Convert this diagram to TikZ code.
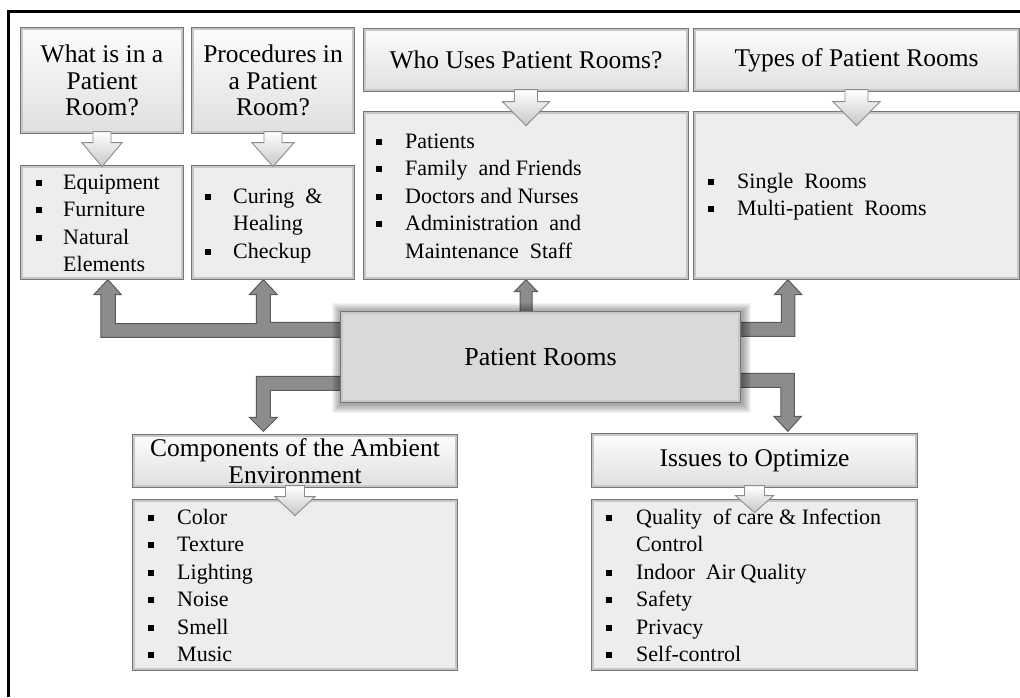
\documentclass[tikz,border=0pt]{standalone}
\usepackage{fontspec}
\setmainfont{Liberation Serif}
\usetikzlibrary{calc,backgrounds}
\definecolor{hdrtop}{HTML}{FCFCFC}
\definecolor{hdrbot}{HTML}{E0E0E0}
\definecolor{cntfill}{HTML}{EDEDED}
\definecolor{ctrfill}{HTML}{D9D9D9}
\definecolor{bord}{HTML}{767676}
\definecolor{connfill}{HTML}{8C8C8C}
\definecolor{conndraw}{HTML}{5A5A5A}
\newcommand\sqb{\rule[3.2pt]{6pt}{6pt}}
\newcommand\bi[2]{\makebox[#1][l]{\sqb}#2}
\newcommand\bc[2]{\makebox[#1][l]{}#2}
\newcommand\hdarrow[5]{%
  \draw[larrow] ($(#1.south)+(-#2,-2)$) -- ++(0,{#4+2}) -- ++({-(#3-#2)},0)
    -- ($(#1.south)+(0,#5)$) -- ++(#3,{-(#5-#4)}) -- ++({-(#3-#2)},0)
    -- ++(0,{-(#4+2)}) -- cycle;}
\begin{document}
\begin{tikzpicture}[x=1pt,y=-1pt,
  box/.style={rectangle, inner sep=0pt, draw=bord, line width=1.3pt},
  hdr/.style={box, top color=hdrtop, bottom color=hdrbot, align=center,
    font=\fontsize{25.5}{26.5}\selectfont},
  cnt/.style={box, fill=cntfill},
  ctr/.style={box, fill=ctrfill, font=\fontsize{26}{30}\selectfont},
  lst/.style={inner sep=0pt, anchor=base west, font=\fontsize{22}{27.5}\selectfont},
  conn/.style={fill=connfill, draw=conndraw, line width=1pt, line join=miter},
  larrow/.style={top color=white, bottom color=black!22, draw=black!45,
    line width=0.9pt, line join=miter},
  bevel/.style={draw=black!22, line width=1.5pt},
]
\useasboundingbox (0,0) rectangle (1020,697);

% frame
\draw[line width=3pt, line join=miter] (8.5,697) -- (8.5,11.7) -- (1020,11.7);

% header boxes
\node[hdr, minimum width=162, minimum height=105] (hA) at (102,80.5) {What is in a\\Patient\\Room?};
\node[hdr, minimum width=162, minimum height=105] (hB) at (273,80.5) {Procedures in\\a Patient\\Room?};
\node[hdr, minimum width=324, minimum height=62] (hC) at (526,60) {Who Uses Patient Rooms?};
\node[hdr, minimum width=325, minimum height=62] (hD) at (856.5,60) {Types of Patient Rooms};
\node[hdr, minimum width=324, minimum height=52] (hE) at (295,461) {Components of the Ambient\\Environment};
\node[hdr, minimum width=325, minimum height=53] (hF) at (754.5,460.5) {Issues to Optimize};

% content boxes
\node[cnt, minimum width=162, minimum height=113] (cA) at (102,222.5) {};
\node[cnt, minimum width=162, minimum height=113] (cB) at (273,222.5) {};
\node[cnt, minimum width=324, minimum height=167] (cC) at (526,195.5) {};
\node[cnt, minimum width=325, minimum height=167] (cD) at (856.5,195.5) {};
\node[cnt, minimum width=324, minimum height=170] (cE) at (295,585) {};
\node[cnt, minimum width=325, minimum height=170] (cF) at (754.5,585) {};

% central box
\node[ctr, minimum width=399, minimum height=90] (pr) at (540.5,357) {Patient Rooms};

% bevels
\foreach \nm in {hA,hB,hC,hD,hE,hF,cA,cB,cC,cD,cE,cF,pr}
  \draw[bevel] ($(\nm.north west)+(1.6,1.6)$) rectangle ($(\nm.south east)+(-1.6,-1.6)$);

% light arrows header -> content
\hdarrow{hA}{9}{20}{9}{33}
\hdarrow{hB}{9}{21}{9}{33}
\hdarrow{hC}{11.5}{23.5}{10}{34}
\hdarrow{hD}{11.5}{23.5}{10}{34}
\hdarrow{hE}{9.5}{20}{9}{28}
\hdarrow{hF}{10}{19}{8}{25}

% list texts
\node[lst] (lA) at (35.5,189) {\begin{tabular}[t]{@{}l@{}}
  \bi{27.5pt}{Equipment}\\ \bi{27.5pt}{Furniture}\\ \bi{27.5pt}{Natural}\\ \bc{27.5pt}{Elements}\end{tabular}};
\node[lst] (lB) at (204.5,203) {\begin{tabular}[t]{@{}l@{}}
  \bi{28.5pt}{Curing\ \ \&}\\ \bc{28.5pt}{Healing}\\ \bi{28.5pt}{Checkup}\end{tabular}};
\node[lst] (lC) at (375.5,148) {\begin{tabular}[t]{@{}l@{}}
  \bi{29.5pt}{Patients}\\ \bi{29.5pt}{Family\ \ and Friends}\\ \bi{29.5pt}{Doctors and Nurses}\\
  \bi{29.5pt}{Administration\ \ and}\\ \bc{29.5pt}{Maintenance\ \ Staff}\end{tabular}};
\node[lst] (lD) at (707.5,188) {\begin{tabular}[t]{@{}l@{}}
  \bi{29.5pt}{Single\ \ Rooms}\\ \bi{29.5pt}{Multi-patient\ \ Rooms}\end{tabular}};
\node[lst] (lE) at (147.5,524) {\begin{tabular}[t]{@{}l@{}}
  \bi{29.5pt}{Color}\\ \bi{29.5pt}{Texture}\\ \bi{29.5pt}{Lighting}\\ \bi{29.5pt}{Noise}\\
  \bi{29.5pt}{Smell}\\ \bi{29.5pt}{Music}\end{tabular}};
\node[lst] (lF) at (605.5,524) {\begin{tabular}[t]{@{}l@{}}
  \bi{30.5pt}{Quality\ \ of care \& Infection}\\ \bc{30.5pt}{Control}\\ \bi{30.5pt}{Indoor\ \ Air Quality}\\
  \bi{30.5pt}{Safety}\\ \bi{30.5pt}{Privacy}\\ \bi{30.5pt}{Self-control}\end{tabular}};

% connector tips
\coordinate (tA) at ($(cA.south west)+(87.5,0)$);
\coordinate (tB) at ($(cB.south west)+(72,0)$);
\coordinate (tC) at (cC.south);
\coordinate (tD) at ($(cD.south west)+(94.5,0)$);
\coordinate (tE) at ($(hE.north west)+(131,-3)$);
\coordinate (tF) at ($(hF.north west)+(196.5,-2)$);

\begin{pgfonlayer}{background}
\fill[white] (0,0) rectangle (1020,697);
% left fork to A and B
\filldraw[conn] ($(pr.north west)+(3,11)$) -| ($(tB)+(7,15)$) -- ++(7,0) -- (tB) -- ++(-14,15) -- ++(7,0)
  |- ($(tA)+(7.5,44)$) -- ($(tA)+(7.5,15)$) -- ++(6,0) -- (tA) -- ++(-14,15) -- ++(7,0)
  |- ($(pr.north west)+(3,26)$) -- cycle;
% top middle to C
\filldraw[conn] (tC) -- ++(11.5,12) -- ++(-5.5,0) -- ($(pr.north -| tC)+(6,3)$) -- ++(-12,0)
  -- ($(tC)+(-6,12)$) -- ++(-5.5,0) -- cycle;
% right up to D
\filldraw[conn] ($(pr.north east)+(-3,11)$) -| ($(tD)+(-6.5,15)$) -- ++(-7,0) -- (tD) -- ++(14,15) -- ++(-7,0)
  |- ($(pr.north east)+(-3,25)$) -- cycle;
% lower left to E
\filldraw[conn] ($(pr.north west)+(3,65)$) -| ($(tE)+(-7,-14)$) -- ++(-7,0) -- (tE) -- ++(14,-14) -- ++(-7,0)
  |- ($(pr.north west)+(3,79)$) -- cycle;
% lower right to F
\filldraw[conn] ($(pr.north east)+(-3,62)$) -| ($(tF)+(6.5,-15)$) -- ++(7,0) -- (tF) -- ++(-14,-15) -- ++(7,0)
  |- ($(pr.north east)+(-3,76)$) -- cycle;
% glow of the central box
\foreach \i in {1,...,9}
  \fill[black, opacity=0.045] ($(pr.north west)+({-\i+1},{-\i+1})$) rectangle ($(pr.south east)+({\i+1},{\i+1})$);
\end{pgfonlayer}
\end{tikzpicture}
\end{document}
